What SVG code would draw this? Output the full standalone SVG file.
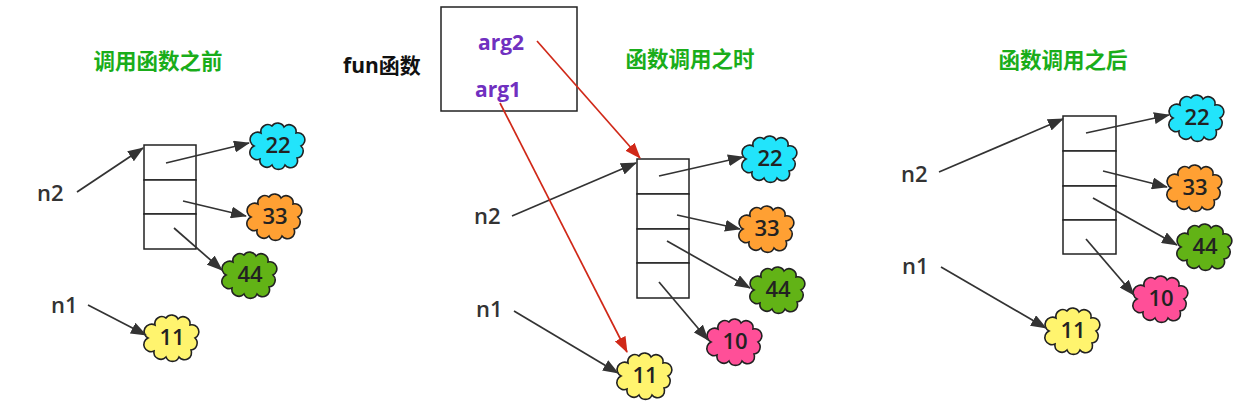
<svg xmlns="http://www.w3.org/2000/svg" xmlns:xlink="http://www.w3.org/1999/xlink" width="1255" height="417" viewBox="0 0 1255 417">
<style>
.title{font-family:"Noto Sans CJK SC","Noto Sans",sans-serif;font-weight:bold;font-size:21.5px;fill:#1aad1a;text-anchor:middle}
.lbl{font-family:"Open Sans","Noto Sans",sans-serif;font-weight:600;font-size:22px;fill:#333}
.num{font-family:"Open Sans","Noto Sans",sans-serif;font-weight:600;font-size:22px;fill:#222;text-anchor:middle}
.arg{font-family:"Open Sans","Noto Sans",sans-serif;font-weight:bold;font-size:21px;fill:#7030c0;text-anchor:middle}
.fun{font-family:"Open Sans","Noto Sans CJK SC",sans-serif;font-weight:bold;font-size:21px;fill:#111}
.box{fill:#fff;stroke:#222;stroke-width:1.5}
.cl{stroke:#222;stroke-width:1.6}
.a{stroke:#333;stroke-width:1.7;fill:none;marker-end:url(#ah)}
.r{stroke:#d02818;stroke-width:1.7;fill:none;marker-end:url(#rh)}
</style>
<defs>
<path id="cloud" d="M -17,-12 A 7 7 0 0 1 -6,-19 A 7 7 0 0 1 6,-18 A 7 7 0 0 1 18,-12 A 7 7 0 0 1 23,1 A 7 7 0 0 1 19,13 A 7 7 0 0 1 7,20 A 7 7 0 0 1 -6,20 A 7 7 0 0 1 -18,14 A 7 7 0 0 1 -24,1 A 7 7 0 0 1 -17,-12 Z"/>
<marker id="ah" markerUnits="userSpaceOnUse" markerWidth="16" markerHeight="12" refX="15" refY="6" orient="auto"><path d="M0,0 L16,6 L0,12 z" fill="#333"/></marker>
<marker id="rh" markerUnits="userSpaceOnUse" markerWidth="16" markerHeight="12" refX="15" refY="6" orient="auto"><path d="M0,0 L16,6 L0,12 z" fill="#d02818"/></marker>
</defs>
<rect width="1255" height="417" fill="#fff"/>

<!-- Panel 1 -->
<text class="title" x="158" y="69">调用函数之前</text>
<g id="p1-n2"><text class="lbl" x="37" y="201">n2</text></g>
<g id="p1-n1"><text class="lbl" x="51" y="313">n1</text></g>
<g id="p1-list">
<rect class="box" x="144" y="145" width="52" height="35"/>
<rect class="box" x="144" y="180" width="52" height="34"/>
<rect class="box" x="144" y="214" width="52" height="35"/>
</g>
<g id="p1-22"><use xlink:href="#cloud" class="cl" fill="#22e4fb" transform="translate(278,145)"/><text class="num" x="278" y="153">22</text></g>
<g id="p1-33"><use xlink:href="#cloud" class="cl" fill="#ffa033" transform="translate(275,216)"/><text class="num" x="275" y="224">33</text></g>
<g id="p1-44"><use xlink:href="#cloud" class="cl" fill="#62b316" transform="translate(250,274)"/><text class="num" x="250" y="282">44</text></g>
<g id="p1-11"><use xlink:href="#cloud" class="cl" fill="#fff46e" transform="translate(172,337)"/><text class="num" x="172" y="345">11</text></g>

<!-- Panel 2 -->
<text class="title" x="690" y="67">函数调用之时</text>
<g id="fun"><rect class="box" x="441" y="7" width="136" height="104"/>
<text class="arg" x="501" y="50">arg2</text><text class="arg" x="498" y="97">arg1</text></g>
<g id="fun-label"><text class="fun" x="343" y="73">fun函数</text></g>
<g id="p2-n2"><text class="lbl" x="474" y="224">n2</text></g>
<g id="p2-n1"><text class="lbl" x="476" y="317">n1</text></g>
<g id="p2-list">
<rect class="box" x="637" y="159" width="52" height="35"/>
<rect class="box" x="637" y="194" width="52" height="35"/>
<rect class="box" x="637" y="229" width="52" height="34"/>
<rect class="box" x="637" y="263" width="52" height="35"/>
</g>
<g id="p2-22"><use xlink:href="#cloud" class="cl" fill="#22e4fb" transform="translate(770,158)"/><text class="num" x="770" y="166">22</text></g>
<g id="p2-33"><use xlink:href="#cloud" class="cl" fill="#ffa033" transform="translate(767,228)"/><text class="num" x="767" y="236">33</text></g>
<g id="p2-44"><use xlink:href="#cloud" class="cl" fill="#62b316" transform="translate(778,289)"/><text class="num" x="778" y="297">44</text></g>
<g id="p2-10"><use xlink:href="#cloud" class="cl" fill="#ff4f98" transform="translate(735,341)"/><text class="num" x="735" y="349">10</text></g>
<g id="p2-11"><use xlink:href="#cloud" class="cl" fill="#fff46e" transform="translate(645,375)"/><text class="num" x="645" y="383">11</text></g>

<!-- Panel 3 -->
<text class="title" x="1063" y="68">函数调用之后</text>
<g id="p3-n2"><text class="lbl" x="901" y="182">n2</text></g>
<g id="p3-n1"><text class="lbl" x="902" y="274">n1</text></g>
<g id="p3-list">
<rect class="box" x="1063" y="116" width="53" height="35"/>
<rect class="box" x="1063" y="151" width="53" height="35"/>
<rect class="box" x="1063" y="186" width="53" height="34"/>
<rect class="box" x="1063" y="220" width="53" height="34"/>
</g>
<g id="p3-22"><use xlink:href="#cloud" class="cl" fill="#22e4fb" transform="translate(1197,117)"/><text class="num" x="1197" y="125">22</text></g>
<g id="p3-33"><use xlink:href="#cloud" class="cl" fill="#ffa033" transform="translate(1195,187)"/><text class="num" x="1195" y="195">33</text></g>
<g id="p3-44"><use xlink:href="#cloud" class="cl" fill="#62b316" transform="translate(1205,246)"/><text class="num" x="1205" y="254">44</text></g>
<g id="p3-10"><use xlink:href="#cloud" class="cl" fill="#ff4f98" transform="translate(1161,298)"/><text class="num" x="1161" y="306">10</text></g>
<g id="p3-11"><use xlink:href="#cloud" class="cl" fill="#fff46e" transform="translate(1073,330)"/><text class="num" x="1073" y="338">11</text></g>

<g id="connectors">
<line class="a" x1="77" y1="192" x2="143" y2="148"/>
<line class="a" x1="166" y1="163" x2="249" y2="143"/>
<line class="a" x1="183" y1="201" x2="246" y2="216"/>
<line class="a" x1="174" y1="228" x2="222" y2="270"/>
<line class="a" x1="88" y1="305" x2="146" y2="335"/>

<line class="a" x1="512" y1="216" x2="636" y2="163"/>
<line class="a" x1="659" y1="176" x2="743" y2="157"/>
<line class="a" x1="677" y1="215" x2="740" y2="229"/>
<line class="a" x1="667" y1="241" x2="750" y2="288"/>
<line class="a" x1="659" y1="282" x2="708" y2="340"/>
<line class="a" x1="514" y1="311" x2="618" y2="373"/>
<line class="r" x1="537" y1="41" x2="640" y2="158"/>
<line class="r" x1="500" y1="103" x2="627" y2="352"/>

<line class="a" x1="939" y1="172" x2="1063" y2="119"/>
<line class="a" x1="1086" y1="133" x2="1169" y2="115"/>
<line class="a" x1="1103" y1="171" x2="1167" y2="187"/>
<line class="a" x1="1093" y1="198" x2="1177" y2="245"/>
<line class="a" x1="1086" y1="239" x2="1134" y2="295"/>
<line class="a" x1="941" y1="267" x2="1046" y2="328"/>
</g>
</svg>
